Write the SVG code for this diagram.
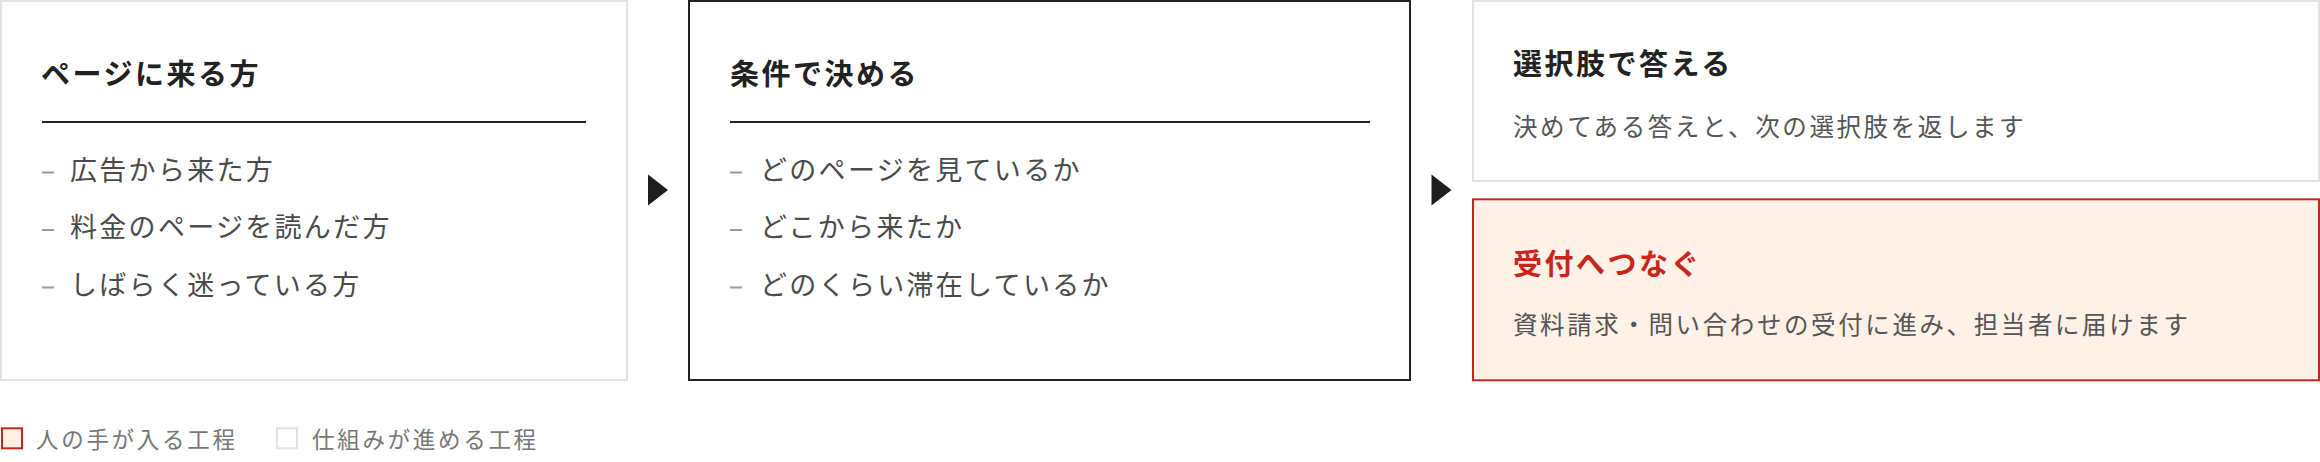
<svg xmlns="http://www.w3.org/2000/svg" width="2320" height="462" viewBox="0 0 2320 462">
<style>
  .box { fill: #ffffff; stroke: #e2e2e2; stroke-width: 2; }
  .box-dark { fill: #ffffff; stroke: #222222; stroke-width: 2; }
  .box-red { fill: #fdf1e8; stroke: #c4281c; stroke-width: 2; }
  .title { font-family: "Noto Sans CJK JP", "Noto Sans", sans-serif; font-size: 29px; font-weight: 700; fill: #222222; letter-spacing: 2.5px; }
  .title-red { fill: #c8261b; }
  .item { font-family: "Noto Sans CJK JP", "Noto Sans", sans-serif; font-size: 27px; font-weight: 400; fill: #4a4a4a; letter-spacing: 2.3px; }
  .desc { font-family: "Noto Sans CJK JP", "Noto Sans", sans-serif; font-size: 24.5px; font-weight: 400; fill: #555555; letter-spacing: 2.6px; }
  .legend { font-family: "Noto Sans CJK JP", "Noto Sans", sans-serif; font-size: 22.5px; font-weight: 400; fill: #777777; letter-spacing: 2.7px; }
  .rule { stroke: #222222; stroke-width: 2; }
  .dash { fill: #999999; }
  .arrow { fill: #1e1e1e; }
</style>

<g id="node-visitors">
  <rect class="box" x="1" y="1" width="626" height="379"/>
  <text class="title" x="41" y="84.5">ページに来る方</text>
  <line class="rule" x1="42" y1="122" x2="586" y2="122"/>
  <rect class="dash" x="42" y="171.5" width="12" height="2"/>
  <text class="item" x="70" y="179.5">広告から来た方</text>
  <rect class="dash" x="42" y="229" width="12" height="2"/>
  <text class="item" x="70" y="237">料金のページを読んだ方</text>
  <rect class="dash" x="42" y="286.5" width="12" height="2"/>
  <text class="item" x="70" y="294.5">しばらく迷っている方</text>
</g>

<g id="node-conditions">
  <rect class="box-dark" x="689" y="1" width="721" height="379"/>
  <text class="title" x="730" y="84.5">条件で決める</text>
  <line class="rule" x1="730" y1="122" x2="1370" y2="122"/>
  <rect class="dash" x="730" y="171.5" width="12" height="2"/>
  <text class="item" x="760" y="179.5">どのページを見ているか</text>
  <rect class="dash" x="730" y="229" width="12" height="2"/>
  <text class="item" x="760" y="237">どこから来たか</text>
  <rect class="dash" x="730" y="286.5" width="12" height="2"/>
  <text class="item" x="760" y="294.5">どのくらい滞在しているか</text>
</g>

<g id="node-answer">
  <rect class="box" x="1473" y="1" width="846" height="180"/>
  <text class="title" x="1513" y="75">選択肢で答える</text>
  <text class="desc" x="1513" y="135.5">決めてある答えと、次の選択肢を返します</text>
</g>

<g id="node-handoff">
  <rect class="box-red" x="1473" y="199.3" width="846" height="181"/>
  <text class="title title-red" x="1513" y="275">受付へつなぐ</text>
  <text class="desc" x="1513" y="333.5">資料請求・問い合わせの受付に進み、担当者に届けます</text>
</g>

<g id="connectors">
  <polygon class="arrow" points="648,174.5 668,190 648,205.5"/>
  <polygon class="arrow" points="1431.5,174.5 1451.5,190 1431.5,205.5"/>
</g>

<g id="legend">
  <rect class="box-red" x="2" y="428.3" width="20" height="20"/>
  <text class="legend" x="36" y="448.4">人の手が入る工程</text>
  <rect class="box" x="277" y="428.3" width="20" height="20"/>
  <text class="legend" x="312" y="448.4">仕組みが進める工程</text>
</g>
</svg>
